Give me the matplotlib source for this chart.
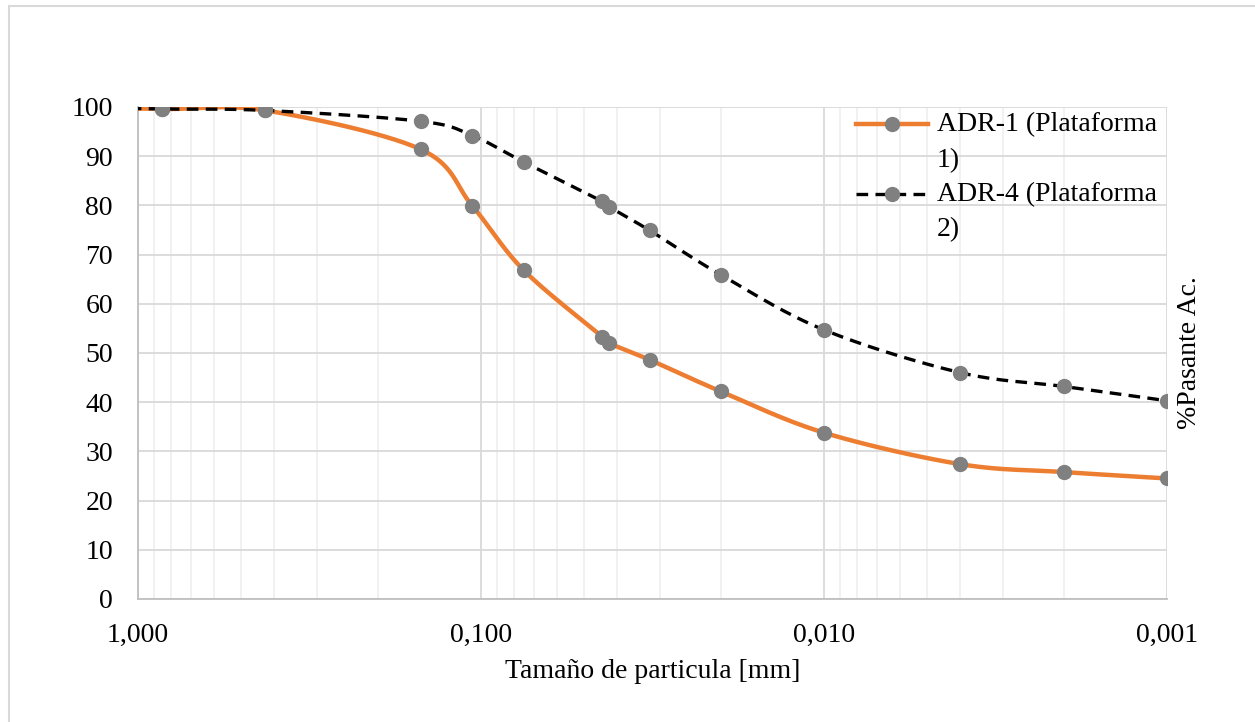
import numpy as np
import matplotlib.pyplot as plt
from matplotlib.patches import Rectangle
from matplotlib.ticker import FixedLocator, LogLocator, NullFormatter
from matplotlib.legend_handler import HandlerLine2D

plt.rcParams['font.family'] = ['Liberation Serif', 'DejaVu Serif']

# Particle sizes [mm] and cumulative passing [%]
size_mm = [2.0, 0.85, 0.425, 0.15, 0.106, 0.075, 0.0443, 0.0423, 0.0322, 0.02, 0.01, 0.004, 0.002, 0.001]
adr1 = [100.0, 99.6, 99.3, 91.4, 79.9, 66.8, 53.3, 52.0, 48.6, 42.2, 33.8, 27.4, 25.8, 24.5]
adr4 = [100.0, 99.6, 99.3, 97.1, 94.2, 88.8, 80.8, 79.7, 74.9, 65.9, 54.7, 46.0, 43.2, 40.3]
labels = ["ADR-1 (Plataforma\n1)", "ADR-4 (Plataforma\n2)"]
xticks = [1.0, 0.1, 0.01, 0.001]
xticklabels = ["1,000", "0,100", "0,010", "0,001"]


# Excel-like smoothed line (Catmull-Rom in log-x space)
def smooth(x, y, n=30):
    lx = np.log10(x)
    y = np.asarray(y, float)
    px = np.concatenate([[2 * lx[0] - lx[1]], lx, [2 * lx[-1] - lx[-2]]])
    py = np.concatenate([[2 * y[0] - y[1]], y, [2 * y[-1] - y[-2]]])
    xs, ys = [], []
    t = np.linspace(0, 1, n)
    for i in range(1, len(px) - 2):
        p0, p1, p2, p3 = px[i - 1], px[i], px[i + 1], px[i + 2]
        q0, q1, q2, q3 = py[i - 1], py[i], py[i + 1], py[i + 2]
        c1x, c1y = p1 + (p2 - p0) / 6, q1 + (q2 - q0) / 6
        c2x, c2y = p2 - (p3 - p1) / 6, q2 - (q3 - q1) / 6
        bx = (1 - t) ** 3 * p1 + 3 * (1 - t) ** 2 * t * c1x + 3 * (1 - t) * t ** 2 * c2x + t ** 3 * p2
        by = (1 - t) ** 3 * q1 + 3 * (1 - t) ** 2 * t * c1y + 3 * (1 - t) * t ** 2 * c2y + t ** 3 * q2
        xs.extend(bx)
        ys.extend(by)
    return 10 ** np.array(xs), np.array(ys)


# legend handle sitting on the first line of a two-line label
class FirstLineHandler(HandlerLine2D):
    def create_artists(self, legend, orig_handle, xdescent, ydescent, width, height, fontsize, trans):
        return super().create_artists(legend, orig_handle, xdescent, ydescent - 26, width, height, fontsize, trans)


fig = plt.figure(figsize=(12.55, 7.22), dpi=100)
fig.patches.append(Rectangle((8.5 / 1255, -0.1), 1.2, 1.1 - 5.5 / 722, transform=fig.transFigure,
                             fill=False, edgecolor='#d9d9d9', linewidth=1.5))
ax = fig.add_axes([138 / 1255, 1 - 599 / 722, (1167 - 138) / 1255, (599 - 107) / 722])

orange = '#ED7D31'
grey = '#808080'
fs = 20

sx, sy = smooth(size_mm, adr1)
ax.plot(sx, sy, color=orange, lw=3.2, solid_capstyle='round', zorder=3)
sx, sy = smooth(size_mm, adr4)
ax.plot(sx, sy, color='black', lw=2.4, dashes=(3.5, 2.2), zorder=3)
ax.plot(size_mm, adr1, 'o', color=grey, ms=10, zorder=4)
ax.plot(size_mm, adr4, 'o', color=grey, ms=10, zorder=4)

# legend handles
h1, = ax.plot([], [], color=orange, lw=3.2, marker='o', mfc=grey, mec=grey, ms=10)
h2, = ax.plot([], [], color='black', lw=2.4, dashes=(3.5, 2.2), marker='o', mfc=grey, mec=grey, ms=10)
leg = ax.legend([h1, h2], labels, loc='upper left', bbox_to_anchor=(0.687, 1.012), frameon=False,
                fontsize=fs, handlelength=2.6, handletextpad=0.3, labelspacing=0.32, borderaxespad=0,
                handler_map={h1: FirstLineHandler(), h2: FirstLineHandler()})
for t in leg.get_texts():
    t.set_linespacing(1.55)

ax.set_xscale('log')
ax.set_xlim(1.0, 0.001)
ax.set_ylim(0, 100)
ax.set_yticks(np.arange(0, 101, 10))
ax.xaxis.set_major_locator(FixedLocator(xticks))
ax.set_xticklabels(xticklabels)
ax.xaxis.set_minor_locator(LogLocator(base=10, subs=np.arange(2, 10)))
ax.xaxis.set_minor_formatter(NullFormatter())

ax.grid(True, which='major', color='#d9d9d9', lw=1.3)
ax.grid(True, which='minor', axis='x', color='#f0f0f0', lw=1.3)
ax.set_axisbelow(True)

for s in ['top', 'right']:
    ax.spines[s].set_visible(False)
for s in ['left', 'bottom']:
    ax.spines[s].set_color('#bfbfbf')
    ax.spines[s].set_linewidth(1.3)

ax.tick_params(axis='both', which='both', length=0, labelsize=fs)
ax.tick_params(axis='y', pad=18)
ax.tick_params(axis='x', pad=17)

ax.set_xlabel("Tamaño de particula [mm]", fontsize=fs, labelpad=8.5)
ax.yaxis.set_label_position('right')
ax.set_ylabel("%Pasante Ac.", fontsize=fs, labelpad=7)

fig.savefig('out.png', dpi=100)
